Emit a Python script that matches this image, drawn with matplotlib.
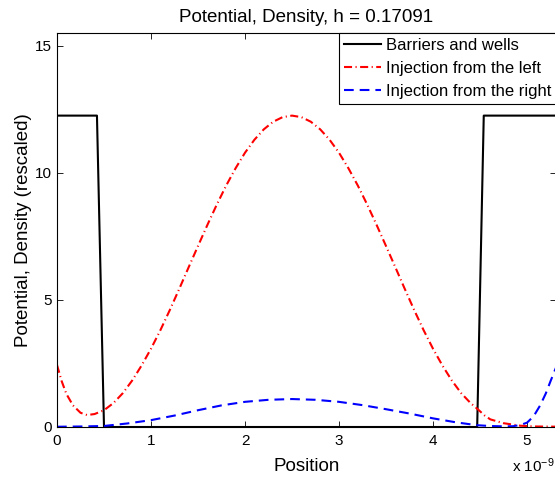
import matplotlib
matplotlib.use("Agg")
import matplotlib.pyplot as plt

# positions in nm (axis shows x 10^-9)
barrier_x = [0.0, 0.425, 0.50, 4.47, 4.54, 5.40]
barrier_v = [12.25, 12.25, 0.0, 0.0, 12.25, 12.25]

left_x = [0.00, 0.05, 0.10, 0.17, 0.25, 0.32, 0.40, 0.50, 0.60, 0.70, 0.80, 0.90,
          1.00, 1.10, 1.20, 1.30, 1.40, 1.50, 1.60, 1.70, 1.80, 1.90, 2.00, 2.10,
          2.20, 2.30, 2.40, 2.50, 2.60, 2.70, 2.80, 2.90, 3.00, 3.10, 3.20, 3.30,
          3.40, 3.50, 3.60, 3.70, 3.80, 3.90, 4.00, 4.10, 4.20, 4.30, 4.40, 4.47,
          4.55, 4.61, 4.75, 4.93, 5.10, 5.40]
left_v = [2.44, 1.80, 1.30, 0.85, 0.56, 0.47, 0.51, 0.66, 0.94, 1.33, 1.83, 2.42,
          3.08, 3.81, 4.60, 5.43, 6.28, 7.12, 7.95, 8.75, 9.50, 10.18, 10.79, 11.30,
          11.71, 12.01, 12.19, 12.25, 12.19, 12.01, 11.71, 11.30, 10.79, 10.18, 9.50, 8.75,
          7.95, 7.12, 6.28, 5.43, 4.60, 3.81, 3.08, 2.42, 1.83, 1.33, 0.94, 0.72,
          0.45, 0.30, 0.15, 0.05, 0.02, 0.01]

right_x = [0.00, 0.25, 0.50, 0.75, 1.00, 1.25, 1.50, 1.75, 2.00, 2.25, 2.50, 2.75,
           3.00, 3.25, 3.50, 3.75, 4.00, 4.25, 4.47, 4.60, 4.75, 4.85, 4.93, 5.00,
           5.07, 5.14, 5.20, 5.25, 5.31, 5.40]
right_v = [0.01, 0.02, 0.04, 0.14, 0.27, 0.45, 0.66, 0.85, 0.99, 1.07, 1.10, 1.07,
           0.99, 0.86, 0.70, 0.53, 0.34, 0.18, 0.07, 0.04, 0.025, 0.03, 0.08, 0.17,
           0.42, 0.85, 1.32, 1.80, 2.35, 3.20]

labels = ["Barriers and wells", "Injection from the left", "Injection from the right"]

plt.rcParams["font.family"] = ["Liberation Sans", "DejaVu Sans"]
plt.rcParams["mathtext.fontset"] = "custom"
plt.rcParams["mathtext.rm"] = "Liberation Sans"
plt.rcParams["mathtext.it"] = "Liberation Sans:italic"
plt.rcParams["lines.scale_dashes"] = False

W, H = 555, 480
fig = plt.figure(figsize=(W / 100, H / 100), dpi=100)
ax = fig.add_axes([57 / W, 53 / H, 499 / W, 394 / H])

ax.plot(barrier_x, barrier_v, color="black", lw=1.5, label=labels[0])
ax.plot(left_x, left_v, color="red", lw=1.5, dashes=(5.8, 2.5, 0.8, 2.5), label=labels[1])
ax.plot(right_x, right_v, color="blue", lw=1.5, dashes=(7, 4.3), label=labels[2])

ax.set_xlim(0, 499 / 94)
ax.set_ylim(0, 15.5)
ax.set_xticks([0, 1, 2, 3, 4, 5])
ax.set_yticks([0, 5, 10, 15])
ax.tick_params(direction="in", length=4, width=0.6, top=True, right=True, labelsize=11)
ax.tick_params(axis="x", pad=5)
ax.tick_params(axis="y", pad=3.5)
for s in ax.spines.values():
    s.set_linewidth(0.8)

ax.set_title("Potential, Density, h = 0.17091", fontsize=13.5, pad=8)
ax.set_xlabel("Position", fontsize=13.5, labelpad=7)
ax.set_ylabel("Potential, Density (rescaled)", fontsize=13.5, labelpad=2)
fig.text(555 / W, 1 - 472 / H, r"x 10$^{-9}$", ha="right", va="baseline", fontsize=11)

leg = ax.legend(loc="upper right", borderaxespad=0, fancybox=False, framealpha=1,
                edgecolor="black", handlelength=2.2, handletextpad=0.3,
                labelspacing=0.48, borderpad=0.3, fontsize=12)
leg.get_frame().set_linewidth(0.8)

fig.savefig("out.png", dpi=100)
